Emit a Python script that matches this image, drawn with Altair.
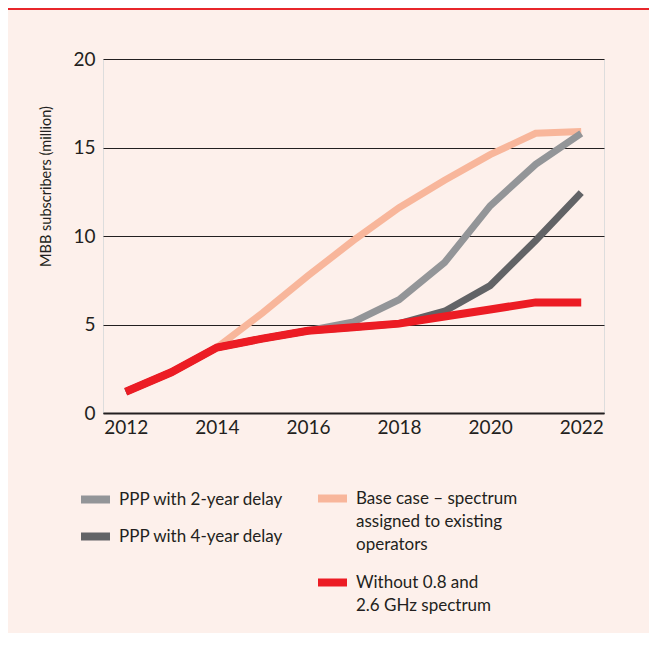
import altair as alt
import pandas as pd

years = list(range(2012, 2023))
ppp_2yr = [1.2, 2.3, 3.7, 4.2, 4.65, 5.15, 6.4, 8.5, 11.7, 14.05, 15.8]
ppp_4yr = [1.2, 2.3, 3.7, 4.2, 4.65, 4.85, 5.05, 5.75, 7.2, 9.75, 12.45]
base_case = [1.2, 2.3, 3.7, 5.65, 7.75, 9.75, 11.6, 13.15, 14.6, 15.8, 15.9]
without = [1.2, 2.3, 3.7, 4.2, 4.65, 4.85, 5.05, 5.45, 5.85, 6.25, 6.25]

name_ppp2 = "PPP with 2-year delay"
name_ppp4 = "PPP with 4-year delay"
name_base = "Base case – spectrum|assigned to existing|operators"
name_without = "Without 0.8 and|2.6 GHz spectrum"

y_ticks = [0, 5, 10, 15, 20]
x_ticks = [2012, 2014, 2016, 2018, 2020, 2022]

BG = "#FDF0EB"
INK = "#231F20"
C_PPP2 = "#939598"
C_PPP4 = "#626366"
C_BASE = "#F8B69B"
C_RED = "#EC1C24"
FONT = "Lato"


def frame(name, values):
    return pd.DataFrame({"year": years, "value": values, "series": name})


df_base = frame(name_base, base_case)
df_gray = pd.concat([frame(name_ppp2, ppp_2yr), frame(name_ppp4, ppp_4yr)])
df_red = frame(name_without, without)

x_enc = alt.X(
    "year:Q",
    scale=alt.Scale(domain=[2011.5, 2022.5], nice=False, zero=False),
    axis=alt.Axis(values=x_ticks, format="d", title=None, grid=False, ticks=False,
                  domainColor=INK, domainWidth=2, labelFontSize=19, labelPadding=5,
                  labelColor=INK, labelFont=FONT),
)
y_enc = alt.Y(
    "value:Q",
    scale=alt.Scale(domain=[0, 20], nice=False),
    axis=alt.Axis(values=y_ticks, domain=False, ticks=False, gridColor=INK, gridWidth=1,
                  gridOpacity=1, labelPadding=8, labelFontSize=19, labelColor=INK,
                  labelFont=FONT, title="MBB subscribers (million)", titleFontSize=14.5,
                  titleFontWeight="normal", titleFont=FONT, titleColor=INK,
                  titleX=-57, titleY=127, titleAngle=-90, titleAlign="center",
                  titleBaseline="middle"),
)

common_legend = dict(
    orient="none", direction="vertical", title=None, symbolType="stroke",
    symbolSize=841, symbolStrokeWidth=8, labelFont=FONT, labelFontSize=17,
    labelColor=INK, labelOffset=5, padding=0, labelLimit=0,
    labelExpr="split(datum.label, '|')",
)

stroke_scale = alt.Scale(domain=[name_base, name_without], range=[C_BASE, C_RED])

base_layer = alt.Chart(df_base).mark_line(strokeWidth=7).encode(
    x=x_enc, y=y_enc,
    stroke=alt.Stroke("series:N", scale=stroke_scale,
                      legend=alt.Legend(legendX=211, legendY=421, rowPadding=11,
                                        **common_legend)),
)
gray_layer = alt.Chart(df_gray).mark_line(strokeWidth=7).encode(
    x=x_enc, y=y_enc,
    color=alt.Color("series:N",
                    scale=alt.Scale(domain=[name_ppp2, name_ppp4], range=[C_PPP2, C_PPP4]),
                    legend=alt.Legend(legendX=-26, legendY=422, rowPadding=2,
                                      **common_legend)),
)
red_layer = alt.Chart(df_red).mark_line(strokeWidth=8).encode(
    x=x_enc, y=y_enc,
    stroke=alt.Stroke("series:N", scale=stroke_scale),
)

top_rule = alt.Chart(pd.DataFrame({"k": [0]})).mark_rule(
    color="#E8262B", strokeWidth=2
).encode(x=alt.value(-95), x2=alt.value(546), y=alt.value(-50))

chart = alt.layer(base_layer, gray_layer, red_layer, top_rule).properties(
    width=501, height=354,
    padding={"left": 95, "top": 51, "right": 45, "bottom": 220},
    autosize=alt.AutoSizeParams(type="none"),
    background=BG,
).configure_view(stroke=None).configure(
    style={"guide-label": {"lineHeight": 23}}
)

chart.save("out.html", embed_options={"renderer": "svg", "actions": False})
